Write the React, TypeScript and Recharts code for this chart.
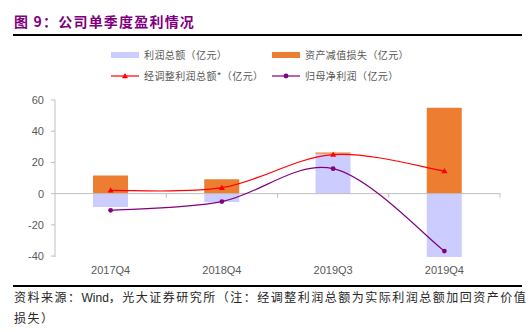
import React from "react";
import { ComposedChart, Bar, Line, XAxis, YAxis, ReferenceLine } from "recharts";

const categories = ["2017Q4", "2018Q4", "2019Q3", "2019Q4"];
const profitTotal = [-8.6, -5.4, 25.6, -40.6];
const impairment = [11.7, 9.2, 0.8, 55.1];
const adjustedProfit = [2.1, 3.8, 25.0, 14.5];
const netProfit = [-10.7, -5.1, 16.0, -36.8];
const yTicks = [-40, -20, 0, 20, 40, 60];

const data = categories.map((c, i) => ({
  name: c,
  profitTotal: profitTotal[i],
  impairment: impairment[i],
  adjustedProfit: adjustedProfit[i],
  netProfit: netProfit[i],
}));

// Catmull-Rom style smooth curve (Excel-like smoothing)
const smoothCurve: any = (context: any) => {
  let pts: [number, number][] = [];
  const k = 1 / 6;
  return {
    areaStart() {},
    areaEnd() {},
    lineStart() {
      pts = [];
    },
    point(x: number, y: number) {
      pts.push([+x, +y]);
    },
    lineEnd() {
      if (!pts.length) return;
      context.moveTo(pts[0][0], pts[0][1]);
      for (let i = 0; i < pts.length - 1; i++) {
        const p0 = pts[i - 1] || pts[i];
        const p1 = pts[i];
        const p2 = pts[i + 1];
        const p3 = pts[i + 2] || pts[i + 1];
        context.bezierCurveTo(
          p1[0] + k * (p2[0] - p0[0]),
          p1[1] + k * (p2[1] - p0[1]),
          p2[0] - k * (p3[0] - p1[0]),
          p2[1] - k * (p3[1] - p1[1]),
          p2[0],
          p2[1]
        );
      }
    },
  };
};

const TriangleDot = (props: any) => {
  const { cx, cy, index } = props;
  if (cx == null || cy == null) return <g key={index} />;
  return (
    <polygon
      key={index}
      points={`${cx},${cy - 3} ${cx - 3},${cy + 2.2} ${cx + 3},${cy + 2.2}`}
      fill="#FF0000"
    />
  );
};

const ZeroLine = (props: any) => {
  const { x1, y1, x2, y2 } = props;
  const w = x2 - x1;
  const n = categories.length;
  const ticks = [];
  for (let i = 1; i <= n; i++) {
    const x = x1 + (w * i) / n;
    ticks.push(<line key={i} x1={x} y1={y1} x2={x} y2={y1 + 4} stroke="#BFBFBF" strokeWidth={1} />);
  }
  return (
    <g>
      <line x1={x1} y1={y1} x2={x2} y2={y2} stroke="#BFBFBF" strokeWidth={1} />
      {ticks}
    </g>
  );
};

const cjk = '"Noto Sans CJK SC", "Liberation Sans", sans-serif';
const latin = '"Liberation Sans", Arial, sans-serif';

const legendText: React.CSSProperties = {
  position: "absolute",
  fontFamily: cjk,
  fontSize: 10,
  color: "#595959",
  letterSpacing: 0.4,
  lineHeight: "12px",
  whiteSpace: "nowrap",
};

export default function App() {
  return (
    <div
      style={{
        position: "fixed",
        left: 0,
        top: 0,
        width: 530,
        height: 332,
        background: "#fff",
        overflow: "hidden",
      }}
    >
      <div
        style={{
          position: "absolute",
          left: 14,
          top: 12,
          fontFamily: cjk,
          fontWeight: 700,
          fontSize: 14,
          letterSpacing: 1.2,
          color: "#7F007F",
          lineHeight: "18px",
          whiteSpace: "nowrap",
        }}
      >
        图 9：公司单季度盈利情况
      </div>
      <div style={{ position: "absolute", left: 13, top: 34, width: 509, height: 2, background: "#000" }} />

      {/* legend */}
      <div style={{ position: "absolute", left: 111, top: 52, width: 28, height: 6, background: "#CCCCFF" }} />
      <div style={{ ...legendText, left: 144, top: 49 }}>利润总额（亿元）</div>
      <div style={{ position: "absolute", left: 272, top: 52, width: 28, height: 6, background: "#ED7D31" }} />
      <div style={{ ...legendText, left: 305, top: 49 }}>资产减值损失（亿元）</div>

      <svg style={{ position: "absolute", left: 0, top: 0 }} width={530} height={332}>
        <line x1={111} y1={76} x2={139} y2={76} stroke="#FF0000" strokeWidth={1.2} />
        <polygon points="125,73 122,78.2 128,78.2" fill="#FF0000" />
        <line x1={272} y1={76} x2={300} y2={76} stroke="#800080" strokeWidth={1.2} />
        <circle cx={286} cy={76} r={2.4} fill="#800080" />
      </svg>
      <div style={{ ...legendText, left: 144, top: 70 }}>经调整利润总额*（亿元）</div>
      <div style={{ ...legendText, left: 305, top: 70 }}>归母净利润（亿元）</div>

      <div style={{ position: "absolute", left: 0, top: 0 }}>
        <ComposedChart
          width={530}
          height={332}
          data={data}
          stackOffset="sign"
          margin={{ top: 100, right: 30, bottom: 55, left: 5 }}
          barCategoryGap={0}
        >
          <XAxis
            dataKey="name"
            axisLine={false}
            tickLine={false}
            tickSize={6}
            tickMargin={3}
            height={20}
            interval={0}
            tick={{ fontFamily: latin, fontSize: 11, fill: "#595959" }}
          />
          <YAxis
            domain={[-40, 60]}
            ticks={yTicks}
            width={50}
            axisLine={{ stroke: "#BFBFBF" }}
            tickLine={{ stroke: "#BFBFBF" }}
            tickSize={4}
            tickMargin={7}
            tick={{ fontFamily: latin, fontSize: 11, fill: "#595959" }}
          />
          <ReferenceLine y={0} shape={ZeroLine} />
          <Bar dataKey="profitTotal" stackId="a" fill="#CCCCFF" barSize={35} isAnimationActive={false} />
          <Bar dataKey="impairment" stackId="a" fill="#ED7D31" barSize={35} isAnimationActive={false} />
          <Line
            dataKey="adjustedProfit"
            type={smoothCurve}
            stroke="#FF0000"
            strokeWidth={1.2}
            dot={TriangleDot}
            activeDot={false}
            isAnimationActive={false}
          />
          <Line
            dataKey="netProfit"
            type={smoothCurve}
            stroke="#800080"
            strokeWidth={1.2}
            dot={{ r: 2.4, fill: "#800080", stroke: "none" }}
            activeDot={false}
            isAnimationActive={false}
          />
        </ComposedChart>
      </div>

      <div style={{ position: "absolute", left: 13, top: 285, width: 509, height: 1.5, background: "#000" }} />
      <div
        style={{
          position: "absolute",
          left: 14,
          top: 287,
          fontFamily: cjk,
          fontSize: 12,
          letterSpacing: 1.5,
          color: "#262626",
          lineHeight: "19px",
          whiteSpace: "nowrap",
        }}
      >
        资料来源：<span style={{ fontFamily: latin, letterSpacing: 0 }}>Wind</span>，光大证券研究所（注：经调整利润总额为实际利润总额加回资产价值
        <br />
        损失）
      </div>
    </div>
  );
}
